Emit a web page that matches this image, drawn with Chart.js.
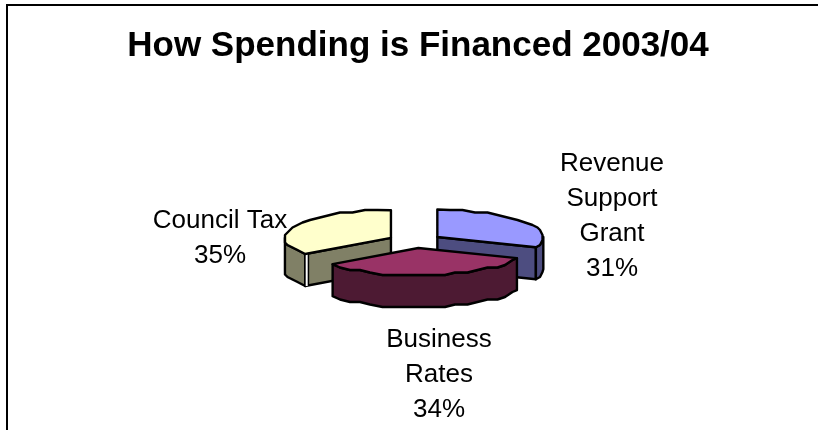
<!DOCTYPE html>
<html>
<head>
<meta charset="utf-8">
<title>How Spending is Financed 2003/04</title>
<script src="https://cdn.jsdelivr.net/npm/chart.js@4/dist/chart.umd.min.js"></script>
<style>
  html, body { margin: 0; padding: 0; background: #fff; }
  canvas { display: block; }
</style>
</head>
<body>
<canvas id="chart" width="818" height="430"></canvas>
<script>
// Data
const categories = ['Revenue Support Grant', 'Business Rates', 'Council Tax'];
const shares = [31, 34, 35];
const labelLines = [['Revenue', 'Support', 'Grant'], ['Business', 'Rates'], ['Council Tax']];

// Colours for the slice tops and their darker side walls
const topColors = ['#9999ff', '#993366', '#ffffcc'];
const wallColors = ['#4d4d80', '#4d1a33', '#808066'];

// Tilted pie: the arcs are laid out by the doughnut controller, this plugin projects them
const tiltedPie = {
  id: 'tiltedPie',

  beforeDraw(chart) {
    const ctx = chart.ctx;
    ctx.save();
    ctx.fillStyle = '#fff';
    ctx.fillRect(0, 0, chart.width, chart.height);
    // frame, only the top and left sides are in view
    ctx.strokeStyle = '#000';
    ctx.lineWidth = 2;
    ctx.beginPath();
    ctx.moveTo(chart.width, 5);
    ctx.lineTo(7, 5);
    ctx.lineTo(7, chart.height);
    ctx.stroke();
    ctx.restore();
  },

  beforeDatasetsDraw(chart, args, opts) {
    const ctx = chart.ctx;
    const meta = chart.getDatasetMeta(0);

    const slices = meta.data.map((arc, i) => {
      const p = arc.getProps(['x', 'y', 'startAngle', 'endAngle', 'outerRadius'], true);
      const mid = (p.startAngle + p.endAngle) / 2;
      const off = arc.options.offset;
      return {
        i,
        a0: p.startAngle,
        a1: p.endAngle,
        r: p.outerRadius,
        cx: p.x + opts.centerShift + Math.cos(mid) * off,
        cy: p.y + Math.sin(mid) * off * opts.tilt
      };
    });

    // back slices first so the front one overlaps them
    slices.slice().sort((a, b) => a.cy - b.cy).forEach(s => drawSlice(ctx, s, opts));

    ctx.save();
    ctx.fillStyle = '#000';
    ctx.font = opts.labelFont;
    ctx.textAlign = 'center';
    ctx.textBaseline = 'middle';
    meta.data.forEach((arc, i) => {
      const lines = labelLines[i].concat(shares[i] + '%');
      const at = opts.labelAnchors[i];
      const top = arc.y + at.y - (lines.length - 1) * opts.labelPitch / 2;
      lines.forEach((line, n) => ctx.fillText(line, arc.x + opts.centerShift + at.x, top + n * opts.labelPitch));
    });
    ctx.restore();

    return false;
  }
};

// Points along the slice rim, rounded to a coarse grid the way the old renderer did
function rimPoints(s, from, to, opts) {
  const pts = [];
  const n = Math.max(1, Math.round((to - from) / opts.rimStep));
  for (let k = 0; k <= n; k++) {
    const a = from + (to - from) * k / n;
    let x = s.cx + s.r * Math.cos(a);
    let y = s.cy + s.r * opts.tilt * Math.sin(a);
    if (k > 0 && k < n) {
      x = Math.round(x / opts.rimSnap) * opts.rimSnap;
      y = Math.round(y / opts.rimSnap) * opts.rimSnap;
    }
    pts.push([x, y]);
  }
  return pts;
}

function tracePolygon(ctx, pts, fill) {
  ctx.beginPath();
  pts.forEach((p, k) => (k ? ctx.lineTo(p[0], p[1]) : ctx.moveTo(p[0], p[1])));
  ctx.closePath();
  ctx.fillStyle = fill;
  ctx.fill();
  ctx.stroke();
}

function drawSlice(ctx, s, opts) {
  const d = opts.depth;
  const apex = [s.cx, s.cy];
  const rim = a => [s.cx + s.r * Math.cos(a), s.cy + s.r * opts.tilt * Math.sin(a)];
  const drop = p => [p[0], p[1] + d];

  ctx.save();
  ctx.strokeStyle = '#000';
  ctx.lineWidth = opts.lineWidth;
  ctx.lineJoin = 'round';

  // cut faces that turn towards the viewer
  if (-Math.cos(s.a0) > 0.01) {
    const e = rim(s.a0);
    tracePolygon(ctx, [apex, e, drop(e), drop(apex)], wallColors[s.i]);
  }
  if (Math.cos(s.a1) > 0.01) {
    const e = rim(s.a1);
    tracePolygon(ctx, [apex, e, drop(e), drop(apex)], wallColors[s.i]);
  }

  // outer wall, lower half of the ellipse only
  const from = Math.max(s.a0, 0);
  const to = Math.min(s.a1, Math.PI);
  if (to > from) {
    const edge = rimPoints(s, from, to, opts);
    tracePolygon(ctx, edge.concat(edge.slice().reverse().map(drop)), wallColors[s.i]);
  }

  // thin light seam where the cut face meets the wall
  if (opts.seams[s.i]) {
    const e = rim(s.a0);
    ctx.strokeStyle = '#000';
    ctx.lineWidth = 5;
    ctx.beginPath();
    ctx.moveTo(e[0] + 1.5, e[1]);
    ctx.lineTo(e[0] + 1.5, e[1] + d);
    ctx.stroke();
    ctx.strokeStyle = '#fff';
    ctx.lineWidth = 2;
    ctx.beginPath();
    ctx.moveTo(e[0] + 1.5, e[1]);
    ctx.lineTo(e[0] + 1.5, e[1] + d);
    ctx.stroke();
    ctx.strokeStyle = '#000';
    ctx.lineWidth = opts.lineWidth;
  }

  // top surface
  tracePolygon(ctx, [apex].concat(rimPoints(s, s.a0, s.a1, opts)), topColors[s.i]);
  ctx.restore();
}

new Chart(document.getElementById('chart'), {
  type: 'pie',
  data: {
    labels: categories,
    datasets: [{
      data: shares,
      backgroundColor: topColors,
      offset: 27,
      borderWidth: 0
    }]
  },
  plugins: [tiltedPie],
  options: {
    responsive: false,
    animation: false,
    radius: 106,
    layout: { padding: { left: 18, right: 0, top: 0, bottom: 15 } },
    plugins: {
      legend: { display: false },
      tooltip: { enabled: false },
      title: {
        display: true,
        text: 'How Spending is Financed 2003/04',
        color: '#000',
        font: { family: '"Liberation Sans"', size: 35, weight: 'bold' },
        padding: { top: 25, bottom: 0 }
      },
      tiltedPie: {
        tilt: 0.26,
        depth: 32,
        lineWidth: 2.4,
        rimStep: 0.12,
        rimSnap: 2.5,
        centerShift: -3,
        seams: [false, false, true],
        labelFont: '26px "Liberation Sans"',
        labelPitch: 35,
        labelAnchors: [{ x: 197, y: -25 }, { x: 24, y: 134 }, { x: -195, y: -3 }]
      }
    }
  }
});
</script>
</body>
</html>
